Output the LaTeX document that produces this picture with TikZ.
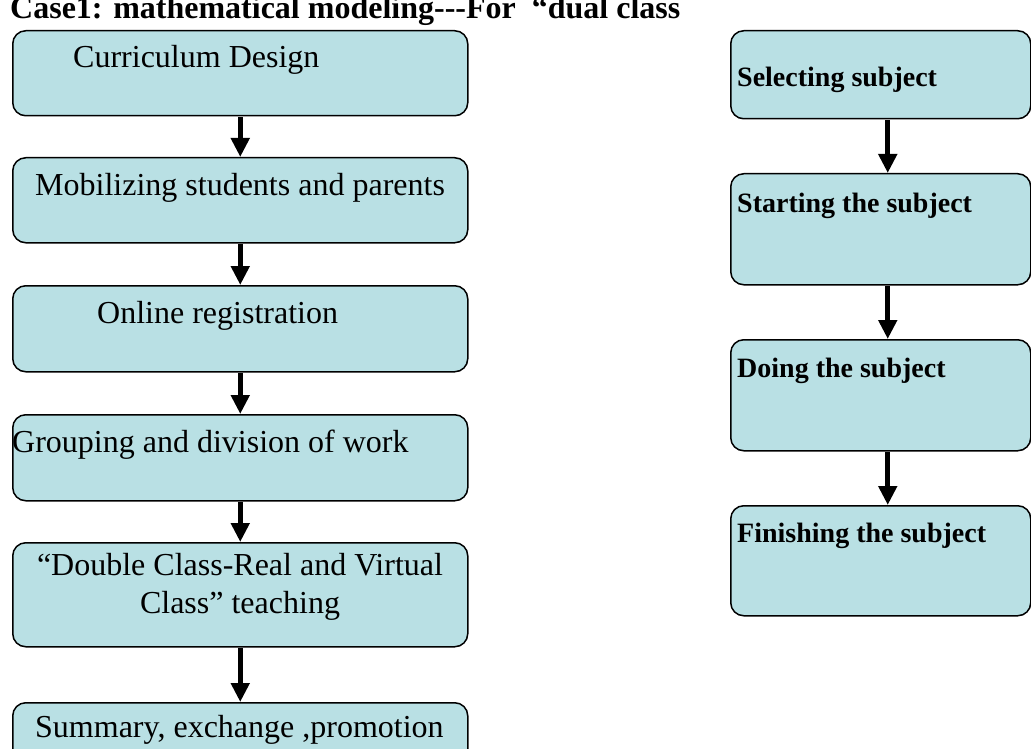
\documentclass[tikz,border=0pt]{standalone}
\usepackage{fontspec}
\setmainfont{Liberation Serif}
\usetikzlibrary{arrows.meta}
\definecolor{boxfill}{RGB}{185,224,228}
\begin{document}
\begin{tikzpicture}[x=1pt,y=-1pt,
  flowbox/.style={draw=black,line width=1.5pt,fill=boxfill,rounded corners=13pt,
    inner sep=0pt,minimum width=#1,anchor=north west},
  lefttxt/.style={font=\fontsize{32}{37}\selectfont,inner sep=0pt,anchor=base west},
  righttxt/.style={font=\fontsize{28}{33}\selectfont\bfseries,inner sep=0pt,anchor=base west},
  flowarrow/.style={line width=5pt,-{Triangle[width=18pt,length=19pt]},shorten <=0.75pt}
]
\clip (0,0) rectangle (1031,749);
\fill[white] (0,0) rectangle (1031,749);

% title
\node[font=\fontsize{32}{37}\selectfont\bfseries,inner sep=0pt,anchor=base west] (title) at (10,19)
  {Case1: mathematical modeling-{}-{}-For \ “dual class};

% left column boxes
\node[flowbox=455pt,minimum height=85pt] (b1) at (12,30) {};
\node[flowbox=455pt,minimum height=85pt] (b2) at (12,157) {};
\node[flowbox=455pt,minimum height=86pt] (b3) at (12,285) {};
\node[flowbox=455pt,minimum height=86pt] (b4) at (12,414) {};
\node[flowbox=455pt,minimum height=104pt] (b5) at (12,542) {};
\node[flowbox=455pt,minimum height=80pt] (b6) at (12,702) {};

\node[lefttxt] (t1) at (73,68) {Curriculum Design};
\node[lefttxt] (t2) at (35,196) {Mobilizing students and parents};
\node[lefttxt] (t3) at (97,323) {Online registration};
\node[lefttxt] (t4) at (12,452) {Grouping and division of work};
\node[lefttxt,anchor=base] (t5a) at (240,575) {“Double Class-Real and Virtual};
\node[lefttxt,anchor=base] (t5b) at (240,613) {Class” teaching};
\node[lefttxt] (t6) at (35,737) {Summary, exchange ,promotion};

\draw[flowarrow] (b1.south) -- (b2.north);
\draw[flowarrow] (b2.south) -- (b3.north);
\draw[flowarrow] (b3.south) -- (b4.north);
\draw[flowarrow] (b4.south) -- (b5.north);
\draw[flowarrow] (b5.south) -- (b6.north);

% right column boxes
\node[flowbox=300pt,minimum height=88pt] (r1) at (730,30) {};
\node[flowbox=300pt,minimum height=111pt] (r2) at (730,173) {};
\node[flowbox=300pt,minimum height=111pt] (r3) at (730,339) {};
\node[flowbox=300pt,minimum height=110pt] (r4) at (730,505) {};

\node[righttxt] (s1) at (737,87) {Selecting subject};
\node[righttxt] (s2) at (737,212) {Starting the subject};
\node[righttxt] (s3) at (737,377) {Doing the subject};
\node[righttxt] (s4) at (737,542) {Finishing the subject};

\draw[flowarrow] ([xshift=7pt]r1.south) -- ([xshift=7pt]r2.north);
\draw[flowarrow] ([xshift=7pt]r2.south) -- ([xshift=7pt]r3.north);
\draw[flowarrow] ([xshift=7pt]r3.south) -- ([xshift=7pt]r4.north);
\end{tikzpicture}
\end{document}
